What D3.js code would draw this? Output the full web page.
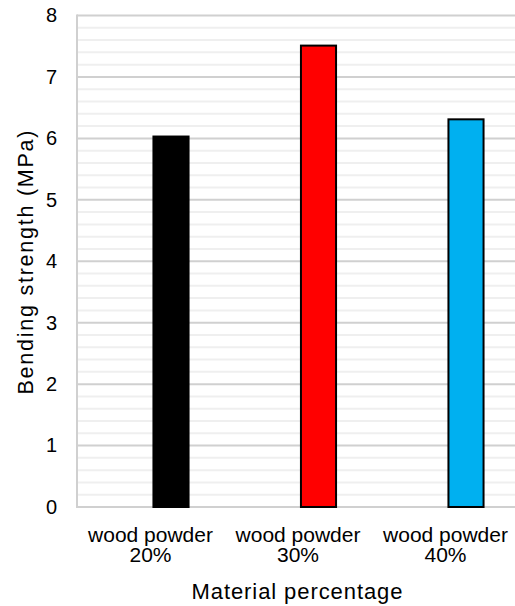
<!DOCTYPE html>
<html>
<head>
<meta charset="utf-8">
<script src="https://cdn.jsdelivr.net/npm/d3@7"></script>
<style>
  html, body { margin: 0; padding: 0; background: #fff; }
  svg { display: block; }
  text { font-family: "Liberation Sans", Arial, sans-serif; fill: #000; }
</style>
</head>
<body>
<svg id="chart" width="515" height="606"></svg>
<script>
// ---- data ----
const categories = ["wood powder 20%", "wood powder 30%", "wood powder 40%"];
const categoryLines = [["wood powder", "20%"], ["wood powder", "30%"], ["wood powder", "40%"]];
const values = [6.03, 7.51, 6.31];
const barColors = ["#000000", "#ff0000", "#00b0f0"];
const yTicks = [0, 1, 2, 3, 4, 5, 6, 7, 8];
const yMinorTicks = d3.range(0, 8.0001, 0.2);
const yTitle = "Bending strength (MPa)";
const xTitle = "Material percentage";

// ---- layout ----
const W = 515, H = 606;
const plotLeft = 77, plotTop = 15.5, plotBottom = 507, plotRight = 525;
const labelShift = -20.5;
const svg = d3.select("#chart");

const y = d3.scaleLinear().domain([0, 8]).range([plotBottom, plotTop]);
const x = d3.scaleBand().domain(categories).range([97.25, 539.75]).paddingInner(0.762).paddingOuter(0.381);

// minor gridlines
svg.append("g").selectAll("line").data(yMinorTicks.filter(v => Math.abs(v - Math.round(v)) > 1e-6))
  .join("line")
  .attr("x1", plotLeft).attr("x2", plotRight)
  .attr("y1", d => y(d)).attr("y2", d => y(d))
  .attr("stroke", "#efefef").attr("stroke-width", 2);

// major gridlines
svg.append("g").selectAll("line").data(yTicks)
  .join("line")
  .attr("x1", plotLeft).attr("x2", plotRight)
  .attr("y1", d => y(d)).attr("y2", d => y(d))
  .attr("stroke", "#d0d0d0").attr("stroke-width", 2);

// left border
svg.append("line")
  .attr("x1", plotLeft).attr("x2", plotLeft)
  .attr("y1", y(8) - 1).attr("y2", y(0) + 1)
  .attr("stroke", "#d0d0d0").attr("stroke-width", 2);

// bars
svg.append("g").selectAll("rect").data(values)
  .join("rect")
  .attr("x", (d, i) => x(categories[i]))
  .attr("width", x.bandwidth())
  .attr("y", d => y(d))
  .attr("height", d => y(0) - y(d))
  .attr("fill", (d, i) => barColors[i])
  .attr("stroke", "#000").attr("stroke-width", 2);

// y axis tick labels
const yAxis = d3.axisLeft(y).tickValues(yTicks).tickSize(0).tickPadding(0).tickFormat(d3.format("d"));
const gy = svg.append("g").attr("transform", `translate(57,0)`).call(yAxis);
gy.select(".domain").remove();
gy.selectAll("text").attr("font-size", 20).attr("font-family", "Liberation Sans, Arial, sans-serif").attr("fill", "#000");

// x axis labels
const gx = svg.append("g");
categories.forEach((c, i) => {
  const cx = x(c) + x.bandwidth() / 2 + labelShift;
  const t = gx.append("text").attr("text-anchor", "middle").attr("font-size", 21);
  categoryLines[i].forEach((ln, j) => {
    t.append("tspan").attr("x", cx).attr("y", 541.5 + j * 20.5).text(ln);
  });
});

// axis titles
svg.append("text")
  .attr("x", (191 + 403) / 2).attr("y", 599)
  .attr("text-anchor", "middle").attr("font-size", 22)
  .attr("textLength", 211).attr("lengthAdjust", "spacing")
  .text(xTitle);

svg.append("text")
  .attr("transform", `translate(33,262.5) rotate(-90)`)
  .attr("text-anchor", "middle").attr("font-size", 21.5)
  .attr("textLength", 264).attr("lengthAdjust", "spacing")
  .text(yTitle);
</script>
</body>
</html>
